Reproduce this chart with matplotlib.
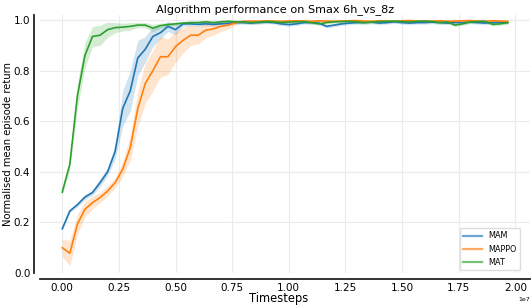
import matplotlib
matplotlib.use("Agg")
import matplotlib.pyplot as plt
import numpy as np

# 60 evaluation points, one every 1e7/30 steps
timesteps = np.arange(60) * (1e7 / 30)

mam_mean = [0.175, 0.245, 0.27, 0.30, 0.318, 0.357, 0.40, 0.48, 0.65, 0.72,
            0.85, 0.885, 0.935, 0.95, 0.975, 0.962, 0.985, 0.985, 0.983, 0.985,
            0.983, 0.985, 0.987, 0.99,
            0.99, 0.988, 0.99, 0.992, 0.99, 0.985, 0.982, 0.985, 0.99, 0.99,
            0.988, 0.975, 0.98, 0.985, 0.988, 0.99, 0.99, 0.992, 0.988, 0.99,
            0.993, 0.99, 0.988, 0.99, 0.99, 0.992, 0.99, 0.988, 0.99, 0.99,
            0.992, 0.99, 0.988, 0.99, 0.992, 0.99]
mam_std = [0.006, 0.006, 0.008, 0.01, 0.01, 0.015, 0.015, 0.03, 0.07, 0.08,
           0.07, 0.05, 0.04, 0.025, 0.02, 0.02, 0.01, 0.008, 0.008, 0.008,
           0.008, 0.008, 0.006, 0.006] + [0.006] * 36

mappo_mean = [0.10, 0.078, 0.193, 0.252, 0.278, 0.298, 0.324, 0.357, 0.41, 0.495,
              0.65, 0.75, 0.80, 0.855, 0.855, 0.895, 0.92, 0.94, 0.94, 0.96,
              0.965, 0.975, 0.98, 0.99,
              0.995, 0.996, 0.995, 0.997, 0.996, 0.995, 0.996, 0.997, 0.996, 0.995,
              0.997, 0.996, 0.995, 0.996, 0.997, 0.998, 0.996, 0.995, 0.997, 0.996,
              0.995, 0.997, 0.998, 0.996, 0.995, 0.996, 0.997, 0.995, 0.996, 0.997,
              0.998, 0.996, 0.995, 0.997, 0.996, 0.995]
mappo_std = [0.035, 0.05, 0.04, 0.03, 0.025, 0.02, 0.02, 0.02, 0.03, 0.05,
             0.07, 0.08, 0.08, 0.08, 0.07, 0.06, 0.05, 0.04, 0.035, 0.03,
             0.025, 0.02, 0.015, 0.01] + [0.004] * 36

mat_mean = [0.32, 0.43, 0.70, 0.86, 0.935, 0.94, 0.962, 0.97, 0.972, 0.975,
            0.98, 0.98, 0.968, 0.978, 0.982, 0.985, 0.988, 0.99, 0.99, 0.993,
            0.99, 0.993, 0.995, 0.993,
            0.993, 0.99, 0.992, 0.994, 0.993, 0.99, 0.992, 0.993, 0.994, 0.99,
            0.985, 0.99, 0.993, 0.994, 0.995, 0.993, 0.99, 0.992, 0.994, 0.995,
            0.996, 0.994, 0.993, 0.995, 0.996, 0.994, 0.99, 0.993, 0.98, 0.985,
            0.992, 0.994, 0.995, 0.983, 0.985, 0.99]
mat_std = [0.01, 0.02, 0.05, 0.05, 0.04, 0.04, 0.03, 0.02, 0.015, 0.015,
           0.01, 0.01, 0.015, 0.01, 0.008, 0.006] + [0.006] * 44

series = [("MAM", mam_mean, mam_std, "#1f77b4"),
          ("MAPPO", mappo_mean, mappo_std, "#ff7f0e"),
          ("MAT", mat_mean, mat_std, "#2ca02c")]

fig = plt.figure(figsize=(5.32, 3.08), dpi=100)
ax = fig.add_axes([40 / 532, 35 / 308, 490 / 532, 258 / 308])

for name, mean, std, col in series:
    mean = np.array(mean)
    std = np.array(std)
    ax.plot(timesteps, mean, color=col, lw=1.2, label=name, zorder=3)
    ax.fill_between(timesteps, mean - std, np.minimum(mean + std, 1.02),
                    color=col, alpha=0.2, lw=0, zorder=2)

ax.set_ylim(0, 1.02)
ax.set_xticks(np.arange(0, 2.01e7, 0.25e7))
ax.set_yticks([0.0, 0.2, 0.4, 0.6, 0.8, 1.0])
ax.grid(True, color="#ebebeb", lw=0.8, zorder=0)
ax.tick_params(axis="both", length=0, labelsize=7.5, pad=2.5)
ax.xaxis.get_offset_text().set_fontsize(4.5)

for s in ["top", "right"]:
    ax.spines[s].set_visible(False)
for s in ["left", "bottom"]:
    ax.spines[s].set_position(("outward", 4.5))
    ax.spines[s].set_linewidth(1.3)
    ax.spines[s].set_color("#222222")

ax.set_title("Algorithm performance on Smax 6h_vs_8z", fontsize=8.1, pad=1, x=0.48)
ax.set_xlabel("Timesteps", fontsize=8.3)
ax.xaxis.set_label_coords(0.486, -0.072)
ax.set_ylabel("Normalised mean episode return", fontsize=7.2)
ax.yaxis.set_label_coords(-0.056, 0.5)

leg = ax.legend(loc="lower right", bbox_to_anchor=(0.98, 0.012), borderaxespad=0,
                fontsize=5.9, framealpha=1, edgecolor="#dddddd", handlelength=2.3)
for ln in leg.get_lines():
    ln.set_alpha(0.65)
    ln.set_linewidth(1.6)

fig.savefig("out.png", dpi=100)
